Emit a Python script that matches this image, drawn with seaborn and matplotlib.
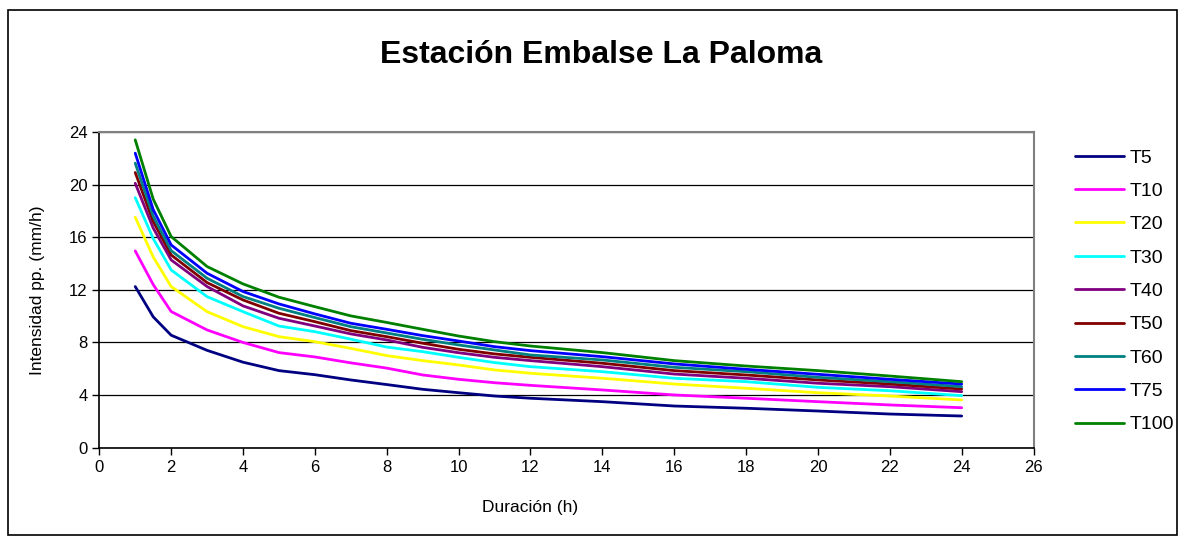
import matplotlib
matplotlib.use("Agg")
import matplotlib.pyplot as plt
from matplotlib.patches import Rectangle
import numpy as np
import pandas as pd
import seaborn as sns

# Duration (hours) and rainfall intensity (mm/h) for each return period
duracion = [1, 1.5, 2, 3, 4, 5, 6, 7, 8, 9, 10, 11, 12, 14, 16, 18, 20, 22, 24]

t5 = [12.25, 9.95, 8.55, 7.40, 6.50, 5.86, 5.55, 5.15, 4.80, 4.44, 4.18, 3.93, 3.76, 3.50, 3.17, 3.00, 2.79, 2.56, 2.41]
t10 = [14.96, 12.40, 10.35, 8.95, 8.00, 7.23, 6.90, 6.45, 6.05, 5.53, 5.20, 4.94, 4.74, 4.39, 4.01, 3.76, 3.50, 3.25, 3.04]
t20 = [17.52, 14.50, 12.25, 10.34, 9.20, 8.44, 8.06, 7.55, 7.00, 6.62, 6.29, 5.91, 5.66, 5.28, 4.84, 4.52, 4.18, 3.93, 3.63]
t30 = [19.01, 15.90, 13.51, 11.48, 10.34, 9.25, 8.82, 8.25, 7.65, 7.30, 6.87, 6.47, 6.16, 5.78, 5.28, 5.02, 4.59, 4.33, 3.96]
t40 = [20.10, 16.70, 14.27, 12.25, 10.78, 9.84, 9.25, 8.65, 8.19, 7.63, 7.22, 6.87, 6.62, 6.16, 5.60, 5.28, 4.90, 4.64, 4.26]
t50 = [20.92, 17.20, 14.65, 12.55, 11.23, 10.22, 9.58, 8.90, 8.44, 7.94, 7.48, 7.13, 6.87, 6.42, 5.86, 5.53, 5.15, 4.84, 4.46]
t60 = [21.63, 17.60, 14.98, 12.88, 11.49, 10.60, 9.89, 9.20, 8.72, 8.24, 7.81, 7.43, 7.05, 6.67, 6.11, 5.78, 5.35, 5.02, 4.64]
t75 = [22.39, 18.10, 15.41, 13.26, 11.87, 10.93, 10.17, 9.46, 9.00, 8.52, 8.11, 7.68, 7.38, 6.92, 6.37, 5.96, 5.58, 5.20, 4.84]
t100 = [23.40, 18.90, 16.05, 13.77, 12.45, 11.44, 10.72, 10.02, 9.52, 9.00, 8.49, 8.06, 7.73, 7.23, 6.62, 6.21, 5.86, 5.45, 5.02]

series_names = ["T5", "T10", "T20", "T30", "T40", "T50", "T60", "T75", "T100"]
series_values = [t5, t10, t20, t30, t40, t50, t60, t75, t100]
colores = ["#000080", "#FF00FF", "#FFFF00", "#00FFFF", "#800080",
           "#800000", "#008080", "#0000FF", "#008000"]

x_ticks = list(range(0, 27, 2))
y_ticks = list(range(0, 25, 4))

df = pd.DataFrame(
    [(d, v, name) for name, vals in zip(series_names, series_values)
     for d, v in zip(duracion, vals)],
    columns=["Duración (h)", "Intensidad pp. (mm/h)", "Serie"],
)

sns.set_style("white")
plt.rcParams["font.family"] = ["Liberation Sans", "DejaVu Sans"]
plt.rcParams["text.color"] = "black"
plt.rcParams["axes.labelcolor"] = "black"
plt.rcParams["xtick.color"] = "black"
plt.rcParams["ytick.color"] = "black"

fig = plt.figure(figsize=(11.85, 5.40), dpi=100)
ax = fig.add_axes([0.0838, 0.1709, 0.7884, 0.5847])

sns.lineplot(
    data=df, x="Duración (h)", y="Intensidad pp. (mm/h)", hue="Serie",
    hue_order=series_names, palette=colores, linewidth=2.0, ax=ax,
    legend=True,
)

ax.set_xlim(0, 26)
ax.set_ylim(0, 24)
ax.set_xticks(x_ticks)
ax.set_yticks(y_ticks)
ax.tick_params(axis="both", labelsize=12, direction="out", length=5,
               width=1, color="black", bottom=True, left=True)
ax.set_xlabel("Duración (h)", fontsize=12.5)
ax.set_ylabel("Intensidad pp. (mm/h)", fontsize=12.5, labelpad=17)
ax.xaxis.set_label_coords(12 / 26, -0.165)

# horizontal gridlines only
ax.yaxis.grid(True, color="black", linewidth=0.9)
ax.xaxis.grid(False)
ax.set_axisbelow(True)

for side in ("left", "bottom"):
    ax.spines[side].set_color("black")
    ax.spines[side].set_linewidth(1.2)
for side in ("top", "right"):
    ax.spines[side].set_color("#808080")
    ax.spines[side].set_linewidth(1.5)

leg = ax.legend(
    loc="upper left", bbox_to_anchor=(1.0357, 0.971), frameon=False,
    fontsize=14, handlelength=2.55, handletextpad=0.25, labelspacing=0.81,
    borderaxespad=0,
)
for line in leg.get_lines():
    line.set_linewidth(2.0)

fig.text(0.507, 0.899, "Estación Embalse La Paloma", ha="center", va="center",
         fontsize=23, fontweight="bold")

# chart frame
fig.patches.append(Rectangle((0.0068, 0.009), 0.9865, 0.972, transform=fig.transFigure,
                             fill=False, edgecolor="black", linewidth=1.2))

fig.savefig("out.png", dpi=100)
